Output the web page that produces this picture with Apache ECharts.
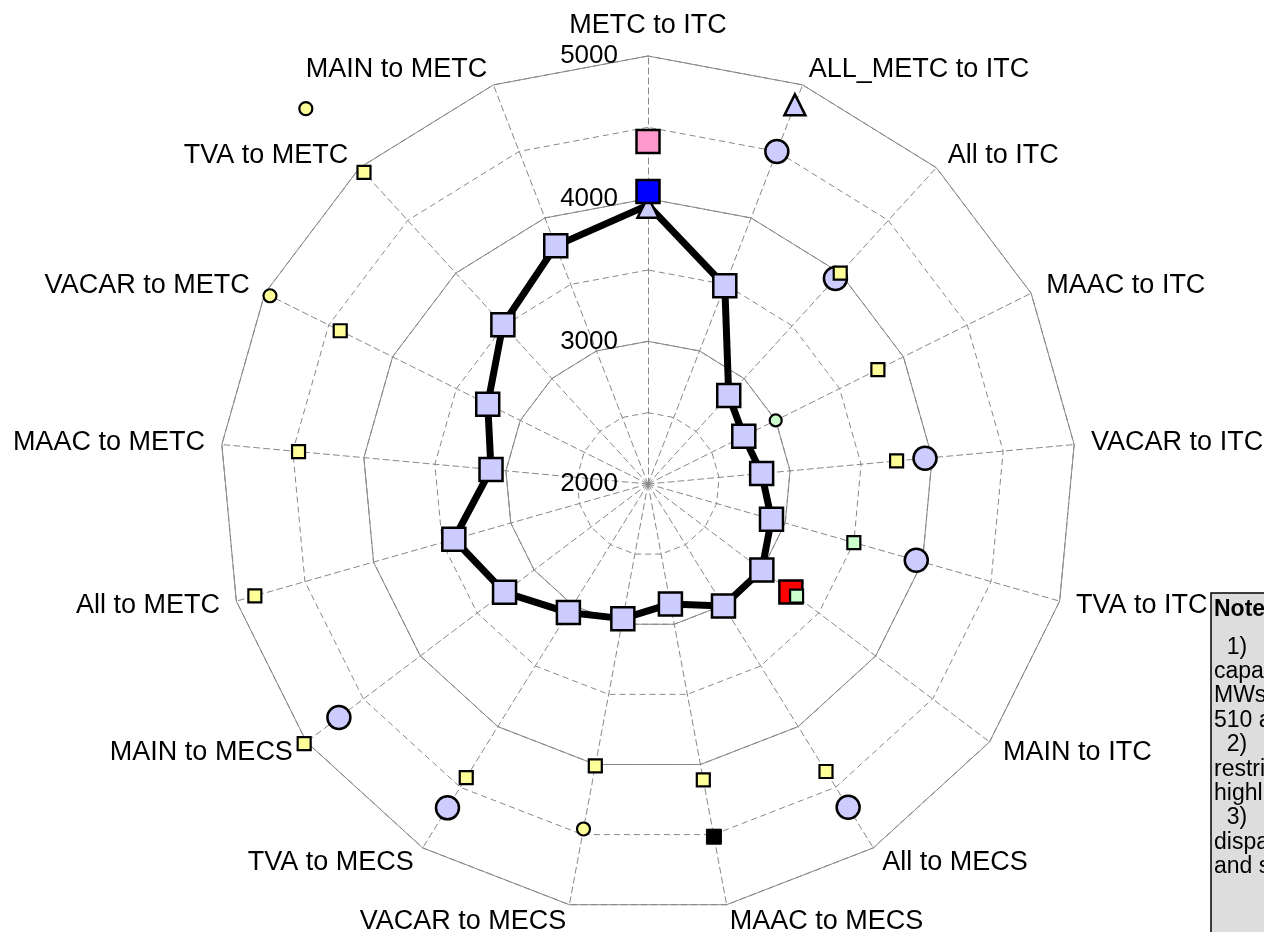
<!DOCTYPE html>
<html>
<head>
<meta charset="utf-8">
<script src="https://cdn.jsdelivr.net/npm/echarts@6/dist/echarts.min.js"></script>
<style>
html,body{margin:0;padding:0;background:#fff;}
#chart{width:1264px;height:932px;}
</style>
</head>
<body>
<div id="chart"></div>
<script>
// Categories in clockwise order, starting at the top
const categories = ['METC to ITC','ALL_METC to ITC','All to ITC','MAAC to ITC','VACAR to ITC','TVA to ITC','MAIN to ITC','All to MECS','MAAC to MECS','VACAR to MECS','TVA to MECS','MAIN to MECS','All to METC','MAAC to METC','VACAR to METC','TVA to METC','MAIN to METC'];
const radialMin = 2000;
const radialMax = 5000;
const tickLabels = ['2000','3000','4000','5000'];

const mainLine      = [3955, 3490, 2840, 2750, 2800, 2900, 3000, 3005, 2855, 2960, 3060, 3260, 3415, 3105, 3255, 3510, 3790];
const blueSquare    = [4050, null, null, null, null, null, null, null, null, null, null, null, null, null, null, null, null];
const pinkSquare    = [4400, null, null, null, null, null, null, null, null, null, null, null, null, null, null, null, null];
const triangles     = [3940, 4850, null, null, null, null, null, null, null, null, null, null, null, null, null, null, null];
const bigCircles    = [null, 4500, 3950, null, 3950, 3955, null, 4665, null, null, 4670, 4715, null, null, null, null, null];
const redSquares    = [null, null, null, null, null, null, 3255, null, null, null, null, null, null, null, null, null, null];
const yellowSquares = [null, null, 4000, 3800, 3750, null, null, 4370, 4110, 4010, 4420, 5020, 4865, 4460, 4410, 4955, null];
const greenSquares  = [null, null, null, null, null, 3500, 3305, null, null, null, null, null, null, null, null, null, null];
const yellowCircles = [null, null, null, null, null, null, null, null, null, 4460, null, null, null, null, 4960, 5560, null];
const greenCircles  = [null, null, null, 3000, null, null, null, null, null, null, null, null, null, null, null, null, null];
const blackSquares  = [null, null, null, null, null, null, null, null, 4515, null, null, null, null, null, null, null, null];

const noteTitle = 'Notes:';
const noteLines = ['  1)      Nominal', 'capability values in', 'MWs; base case', '510 and 520 limits.', '  2)      Red square', 'restricted transfer', 'highlighted case.', '  3)      Values', 'dispatch assumptions', 'and system limits.'];

const N = categories.length;
const CENTER = [648, 484];
const RADIUS = 428;
const GRAY = '#888888';
const FONT = '"Liberation Sans", Arial, sans-serif';

// ECharts radar runs counter-clockwise: reverse all but the first
const radarOrder = [0].concat(categories.slice(1).map((c, i) => N - 1 - i));
function indicators(withLabel) {
  return radarOrder.map((idx, j) => {
    const o = { name: categories[idx], min: radialMin, max: radialMax };
    if (withLabel && j === 0) o.axisLabel = { show: true };
    return o;
  });
}

function toPolar(arr) {
  const out = [];
  arr.forEach((v, i) => { if (v != null) out.push([v, i]); });
  return out;
}

const lineData = mainLine.map((v, i) => i === 0 ? { value: [v, i], symbol: 'none' } : [v, i]);
lineData.push({ value: [mainLine[0], N], symbol: 'none' });

function scatter(name, arr, symbol, size, color, bw, z) {
  return {
    name, type: 'scatter', coordinateSystem: 'polar', clip: false, z: z,
    symbol, symbolSize: size,
    itemStyle: { color, borderColor: '#000', borderWidth: bw, opacity: 1 },
    data: toPolar(arr)
  };
}

const chart = echarts.init(document.getElementById('chart'), null, { renderer: 'canvas' });
chart.setOption({
  animation: false,
  backgroundColor: '#ffffff',
  radar: [
    {
      center: CENTER, radius: RADIUS, startAngle: 90, splitNumber: 6, shape: 'polygon',
      indicator: indicators(false),
      nameGap: 17,
      axisName: { color: '#000', fontSize: 27, fontFamily: FONT },
      axisLine: { lineStyle: { color: GRAY, type: [6, 4], width: 1 } },
      splitLine: { lineStyle: { color: GRAY, type: [6, 4], width: 1 } },
      splitArea: { show: false },
      axisTick: { show: false },
      axisLabel: { show: false }
    },
    {
      center: CENTER, radius: RADIUS, startAngle: 90, splitNumber: tickLabels.length - 1, shape: 'polygon',
      indicator: indicators(true),
      axisName: { show: false },
      axisLine: { show: false },
      splitLine: { lineStyle: { color: GRAY, type: 'solid', width: 1 } },
      splitArea: { show: false },
      axisTick: { show: false },
      axisLabel: {
        show: false, color: '#000', fontSize: 26, fontFamily: FONT, margin: 30,
        formatter: function (v) {
          const s = String(Math.round(v));
          return tickLabels.indexOf(s) >= 0 ? s : '';
        }
      }
    }
  ],
  polar: { center: CENTER, radius: [0, RADIUS] },
  angleAxis: { type: 'value', min: 0, max: N, startAngle: 90, clockwise: true, show: false },
  radiusAxis: { type: 'value', min: radialMin, max: radialMax, show: false },
  series: [
    {
      name: 'Main', type: 'line', coordinateSystem: 'polar', z: 3,
      symbol: 'rect', symbolSize: 23,
      lineStyle: { color: '#000', width: 7 },
      itemStyle: { color: '#ccccff', borderColor: '#000', borderWidth: 2.5 },
      data: lineData
    },
    scatter('Triangle', triangles, 'triangle', 21, '#ccccff', 2.5, 4),
    scatter('Blue', blueSquare, 'rect', 23, '#0000ff', 2.5, 5),
    scatter('Pink', pinkSquare, 'rect', 23, '#ff99cc', 2.5, 5),
    scatter('Circles', bigCircles, 'circle', 23, '#ccccff', 2.5, 5),
    scatter('Red', redSquares, 'rect', 23, '#ff0000', 2.5, 5),
    scatter('Yellow squares', yellowSquares, 'rect', 13, '#ffff99', 2.2, 6),
    scatter('Green squares', greenSquares, 'rect', 13, '#ccffcc', 2.2, 6),
    scatter('Yellow circles', yellowCircles, 'circle', 13, '#ffff99', 2.2, 6),
    scatter('Green circles', greenCircles, 'circle', 12, '#ccffcc', 2.2, 6),
    scatter('Black squares', blackSquares, 'rect', 15, '#000000', 1, 6)
  ],
  graphic: [
    { type: 'rect', z: 10, shape: { x: 1211, y: 593, width: 320, height: 420 },
      style: { fill: '#dddddd', stroke: '#000', lineWidth: 1.5 } },
    { type: 'text', z: 11, x: 1214, y: 598,
      style: { text: noteTitle, font: 'bold 23px ' + FONT, fill: '#000', verticalAlign: 'top', lineHeight: 24 } },
    { type: 'text', z: 11, x: 1214, y: 635,
      style: { text: noteLines.join('\n'), font: '23px ' + FONT, fill: '#000', verticalAlign: 'top', lineHeight: 24.4 } }
  ]
});
</script>
</body>
</html>
